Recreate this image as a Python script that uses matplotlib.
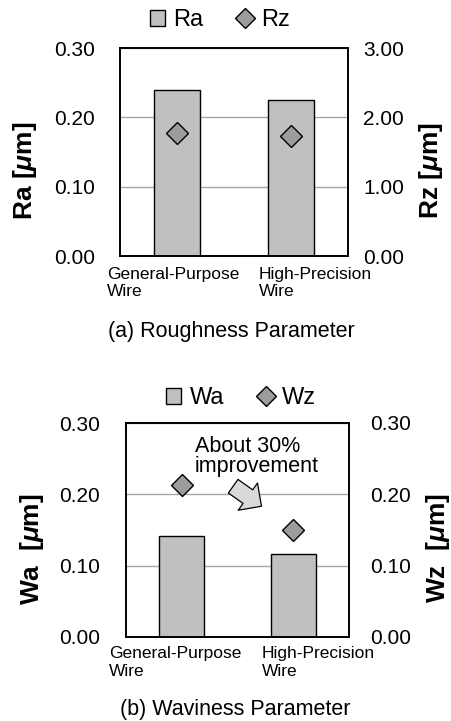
import numpy as np
import matplotlib
matplotlib.use('Agg')
import matplotlib.pyplot as plt
from matplotlib.patches import Patch, FancyArrowPatch
from matplotlib.lines import Line2D

plt.rcParams['font.family'] = ['Liberation Sans', 'DejaVu Sans']
plt.rcParams['mathtext.fontset'] = 'custom'
plt.rcParams['mathtext.it'] = 'Liberation Sans:italic:bold'
plt.rcParams['mathtext.rm'] = 'Liberation Sans:bold'

# Data
categories = ['General-Purpose\nWire', 'High-Precision\nWire']
ra = [0.240, 0.225]
rz = [1.78, 1.73]
wa = [0.142, 0.117]
wz = [0.213, 0.150]
ra_ticks = [0.0, 0.1, 0.2, 0.3]
rz_ticks = [0.0, 1.0, 2.0, 3.0]
w_ticks = [0.0, 0.1, 0.2, 0.3]

W, H = 451, 721
bar_c = '#c0c0c0'
dia_c = '#9c9c9c'


def px(x0, y0, x1, y1):
    # pixel box (top-left origin) -> figure fraction rect
    return [x0 / W, 1 - y1 / H, (x1 - x0) / W, (y1 - y0) / H]


def panel(rect, a, z, aticks, zticks, zmax, names, lab_x, lab_y,
          lpads, ylabs, ylab_pos, leg_pos, caption, cap_pos):
    ax = fig.add_axes(rect)
    x = np.arange(len(a))
    ax.bar(x, a, width=0.4, color=bar_c, edgecolor='black', linewidth=1.0, zorder=2)
    ax.set_xlim(-0.5, 1.5)
    ax.set_ylim(0, aticks[-1])
    ax.set_yticks(aticks)
    ax.set_yticklabels(['%.2f' % v for v in aticks])
    ax.set_xticks([])
    ax.grid(axis='y', color='#a6a6a6', linewidth=1.0)
    ax.set_axisbelow(True)
    ax.tick_params(axis='y', length=0, pad=lpads[0], labelsize=15)
    for s in ax.spines.values():
        s.set_linewidth(1.2)
    for xi, name in zip(lab_x, categories):
        ax.text(xi, lab_y, name, transform=ax.get_xaxis_transform(),
                ha='left', va='top', fontsize=12.5, linespacing=1.22)

    ax2 = ax.twinx()
    ax2.plot(x, z, linestyle='none', marker='D', markersize=11,
             markerfacecolor=dia_c, markeredgecolor='black', markeredgewidth=1.0)
    ax2.set_ylim(0, zmax)
    ax2.set_yticks(zticks)
    ax2.set_yticklabels(['%.2f' % v for v in zticks])
    ax2.tick_params(axis='y', length=0, pad=lpads[1], labelsize=15)
    for s in ax2.spines.values():
        s.set_linewidth(1.2)

    fig.text(ylab_pos[0] / W, 1 - ylab_pos[1] / H, ylabs[0], rotation=90,
             ha='center', va='center', fontsize=19, fontweight='bold')
    fig.text(ylab_pos[2] / W, 1 - ylab_pos[3] / H, ylabs[1], rotation=90,
             ha='center', va='center', fontsize=19, fontweight='bold')

    handles = [Patch(facecolor=bar_c, edgecolor='black', linewidth=1.0),
               Line2D([], [], linestyle='none', marker='D', markersize=10,
                      markerfacecolor=dia_c, markeredgecolor='black')]
    ax.legend(handles, names, loc='center', bbox_to_anchor=(leg_pos[0] / W, 1 - leg_pos[1] / H),
              bbox_transform=fig.transFigure, ncol=2, frameon=False, fontsize=17,
              handlelength=0.64, handleheight=0.64, handletextpad=0.35,
              columnspacing=1.44, borderpad=0, borderaxespad=0)
    fig.text(cap_pos[0] / W, 1 - cap_pos[1] / H, caption, ha='center', va='center',
             fontsize=15.5)
    return ax, ax2


fig = plt.figure(figsize=(W / 100, H / 100), dpi=100)

panel(px(120, 48, 348, 256), ra, rz, ra_ticks, rz_ticks, 3.0, ['Ra', 'Rz'],
      [-0.614, 0.719], -0.052, (18, 10.8),
      [r'Ra [$\mu$m]', r'Rz [$\mu$m]'], (25, 171, 431, 171), (220, 20),
      '(a) Roughness Parameter', (231, 331))

axb, axb2 = panel(px(126, 423, 349, 637), wa, wz, w_ticks, w_ticks, 0.3, ['Wa', 'Wz'],
                  [-0.650, 0.715], -0.042, (18.7, 15.4),
                  [r'Wa  [$\mu$m]', r'Wz  [$\mu$m]'], (32, 549, 438, 548), (241, 398),
                  '(b) Waviness Parameter', (235, 710))

axb.text(0.118, 0.2817, 'About 30%\nimprovement', ha='left', va='top',
         fontsize=15.5, linespacing=0.91, zorder=5)
arrow = FancyArrowPatch((0.461, 0.2114), (0.715, 0.1833),
                        arrowstyle='simple,head_length=12,head_width=24,tail_width=12',
                        mutation_scale=1, shrinkA=0, shrinkB=0,
                        facecolor='#d9d9d9', edgecolor='black', linewidth=0.9, zorder=5)
axb.add_patch(arrow)

fig.savefig('out.png', dpi=100)
